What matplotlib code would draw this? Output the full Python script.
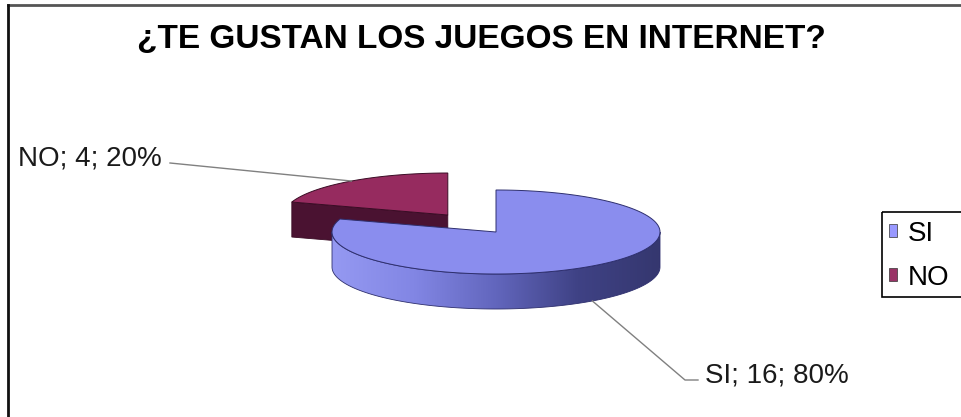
import numpy as np
import matplotlib.pyplot as plt
from matplotlib.patches import Polygon, Patch, Rectangle
from matplotlib.colors import LinearSegmentedColormap

plt.rcParams['font.family'] = ['Liberation Sans', 'DejaVu Sans']

title = '¿TE GUSTAN LOS JUEGOS EN INTERNET?'
categories = ['SI', 'NO']
counts = [16, 4]
explode = [0.0, 0.5]

top_colors = ['#8a8dee', '#962b5f']
side_colors = ['#6a6ec8', '#4a1231']
edge_colors = ['#2e2f6e', '#3a0c25']
legend_colors = ['#9999ff', '#993366']

W, H = 961, 417
cx, cy = 496, 232      # pie centre (pixels)
rx, ry = 164, 42       # radii of the top ellipse
depth = 35             # thickness of the pie


def rim(theta, ox=0.0, oy=0.0, dz=0.0):
    t = np.radians(np.atleast_1d(theta))
    return np.column_stack([cx + ox + rx * np.cos(t), cy + oy - ry * np.sin(t) + dz])


def front_ranges(t_lo, t_hi):
    # parts of [t_lo, t_hi] that face the viewer (sin < 0)
    out = []
    for k in range(-2, 3):
        a, b = -180 + 360 * k, 360 * k
        lo, hi = max(a, t_lo), min(b, t_hi)
        if hi > lo:
            out.append((lo, hi))
    return out


fig = plt.figure(figsize=(W / 100, H / 100), dpi=100)
ax = fig.add_axes([0, 0, 1, 1])
ax.set_xlim(0, W)
ax.set_ylim(H, 0)
ax.axis('off')

total = sum(counts)
wall_cmap = LinearSegmentedColormap.from_list(
    'wall', ['#9599f2', '#8286e4', '#6266bd', '#3f4285', '#35376f'])

slices = []
start = 90.0
for i, v in enumerate(counts):
    span = 360.0 * v / total
    t0, t1 = start, start - span
    mid = (t0 + t1) / 2
    ox = explode[i] * rx * np.cos(np.radians(mid))
    oy = -explode[i] * ry * np.sin(np.radians(mid))
    slices.append((i, t0, t1, mid, ox, oy))
    start = t1

# draw the exploded (back) slice first so the big one sits in front
for i, t0, t1, mid, ox, oy in sorted(slices, key=lambda s: s[5]):
    tip = np.array([cx + ox, cy + oy])
    down = np.array([0, depth])

    # radial faces that turn towards the viewer
    for t, visible in ((t0, np.cos(np.radians(t0)) < 0), (t1, np.cos(np.radians(t1)) > 0)):
        if visible:
            r = rim(t, ox, oy)[0]
            face = np.array([tip, r, r + down, tip + down])
            ax.add_patch(Polygon(face, closed=True, facecolor=side_colors[i],
                                 edgecolor=edge_colors[i], lw=0.6, zorder=2))

    # outer curved wall, shaded left to right
    for lo, hi in front_ranges(t1, t0):
        th = np.linspace(lo, hi, 200)
        upper = rim(th, ox, oy)
        lower = rim(th[::-1], ox, oy, depth)
        wall = Polygon(np.vstack([upper, lower]), closed=True, facecolor='none',
                       edgecolor=edge_colors[i], lw=0.6, zorder=3)
        ax.add_patch(wall)
        img = ax.imshow(np.linspace(0, 1, 256)[None, :], cmap=wall_cmap, aspect='auto',
                        extent=(cx + ox - rx, cx + ox + rx, cy + oy + ry + depth, cy + oy - ry),
                        zorder=2.5)
        img.set_clip_path(wall)

    # top face
    th = np.linspace(t0, t1, 300)
    top = np.vstack([tip, rim(th, ox, oy)])
    ax.add_patch(Polygon(top, closed=True, facecolor=top_colors[i],
                         edgecolor=edge_colors[i], lw=0.7, zorder=4))

ax.set_xlim(0, W)
ax.set_ylim(H, 0)

# data labels with leader lines
label_font = dict(fontsize=20, color='#1a1a1a')
for i, t0, t1, mid, ox, oy in slices:
    pct = 100.0 * counts[i] / total
    text = f'{categories[i]}; {counts[i]}; {pct:.0f}%'
    if np.sin(np.radians(mid)) > 0:
        end = rim(mid, ox, oy)[0]
        ax.text(18, 165, text, ha='left', va='baseline', **label_font)
        ax.plot([170, end[0]], [163, end[1]], color='#808080', lw=1, zorder=5)
    else:
        end = rim(mid, ox, oy, depth)[0]
        ax.text(705, 382, text, ha='left', va='baseline', **label_font)
        ax.plot([698, 685, end[0]], [380, 380, end[1]], color='#808080', lw=1, zorder=5)

ax.text(481, 48, title, ha='center', va='baseline', fontsize=24, fontweight='bold',
        color='black')

# legend: entries from the library, box drawn so it runs off the right edge
handles = [Patch(facecolor=c, edgecolor='#333333', lw=0.5) for c in legend_colors]
leg = ax.legend(handles, categories, loc='upper left',
                bbox_to_anchor=(883 / W, 1 - 215 / H), bbox_transform=fig.transFigure,
                fontsize=20, frameon=False,
                handlelength=0.3, handleheight=0.3, handletextpad=0.4,
                labelspacing=0.65, borderpad=0.2, borderaxespad=0)
ax.add_patch(Rectangle((882, 212), 100, 85, facecolor='none', edgecolor='black',
                       lw=1.2, clip_on=False, zorder=6))

# chart area border (top and left)
ax.plot([8, W], [5, 5], color='#555555', lw=2, clip_on=False, zorder=6)
ax.plot([8, 8], [5, H], color='#111111', lw=2, clip_on=False, zorder=6)

fig.savefig('out.png', dpi=100)
